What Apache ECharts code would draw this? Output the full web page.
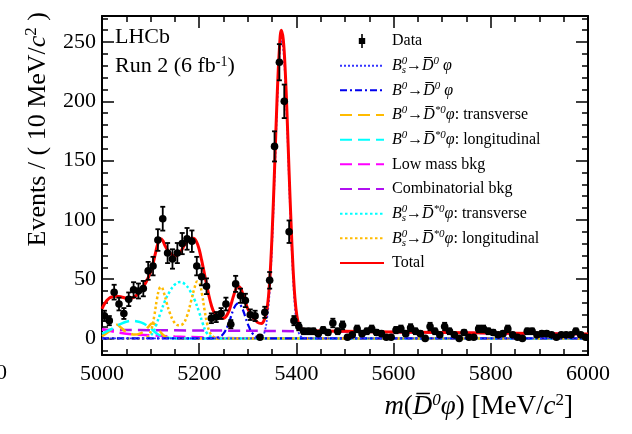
<!DOCTYPE html>
<html>
<head>
<meta charset="utf-8">
<script src="https://cdn.jsdelivr.net/npm/echarts@6/dist/echarts.min.js"></script>
<style>
  html, body { margin: 0; padding: 0; background: #fff; }
  #main { width: 632px; height: 434px; }
</style>
</head>
<body>
<div id="main"></div>
<script>
// binning of the mass axis (10 MeV bins from 5000)
var binLo = 5000, binW = 10;

// events per bin
var counts = [
  19, 15, 39, 29, 21, 33, 41, 40, 42, 57,
  61, 83, 101, 72, 67, 72, 80, 84, 82, 61,
  52, 44, 17, 18, 21, 29, 12, 46, 36, 32,
  20, 19, 1, 22, 49, 162, 233, 200, 90, 15,
  10, 6, 6, 6, 4, 7, 5, 13, 6, 11,
  1, 3, 8, 4, 6, 8, 5, 4, 1, 1,
  7, 8, 4, 9, 6, 4, 0, 10, 6, 3,
  10, 6, 3, 0, 5, 1, 1, 8, 8, 6,
  5, 3, 4, 8, 3, 1, 0, 6, 6, 3,
  4, 4, 3, 1, 3, 3, 3, 6, 3, 1
];

// fit components, [mass, events]
var bsD0 = [[5000,0],[5300,0],[5320,0.3],[5330,2],[5335,6],[5340,18],[5345,40],[5350,80],[5355,134],[5360,192],[5365,236],[5369,252],[5373,244],[5377,218],[5381,178],[5385,132],[5389,89],[5393,52],[5397,26],[5401,11],[5405,4.5],[5410,1.5],[5420,0.3],[5440,0],[6000,0]];
var b0D0 = [[5000,0],[5220,0],[5240,1],[5250,4],[5260,12],[5265,18],[5270,24],[5275,28],[5280,29.5],[5285,28],[5290,24],[5295,18],[5300,12],[5310,4],[5320,1],[5340,0],[6000,0]];
var b0DstT = [[5000,2],[5010,4.5],[5020,8],[5026,10.5],[5031,11.5],[5038,9.5],[5048,6],[5058,4],[5068,3.2],[5078,4],[5088,6.5],[5096,10],[5103,12.5],[5109,12],[5116,8],[5123,4],[5131,1.2],[5143,0.2],[5160,0],[6000,0]];
var b0DstL = [[5000,4],[5010,6],[5020,8],[5030,10.5],[5040,12.5],[5050,14],[5060,14.8],[5070,14.5],[5080,13.5],[5090,11.5],[5100,8.5],[5110,5],[5120,2.3],[5130,0.8],[5145,0.1],[5160,0],[6000,0]];
var lowMass = [[5000,8],[5020,6],[5050,4],[5100,2.6],[5150,1.6],[5200,0.9],[5250,0.4],[5300,0.1],[5350,0],[6000,0]];
var combBkg = [[5000,7.2],[5200,6.7],[5400,6.1],[5600,5.3],[5800,4.4],[6000,3.6]];
var bsDstT = [[5000,0],[5080,0],[5095,1],[5105,5],[5112,12],[5120,21],[5130,32],[5140,40],[5150,45.5],[5160,47.5],[5170,46],[5180,41],[5190,33],[5200,22],[5207,13],[5215,5],[5225,1.2],[5240,0],[6000,0]];
var bsDstL = [[5000,0],[5085,0],[5095,2],[5102,8],[5108,20],[5113,33],[5118,42],[5122,43.5],[5127,39],[5133,30],[5140,21],[5148,14],[5157,11],[5166,12],[5175,19],[5183,31],[5190,42],[5196,48],[5201,46],[5206,37],[5211,24],[5216,13],[5222,5],[5230,1.2],[5245,0],[6000,0]];
var total = [[5000,25],[5005,29],[5010,32],[5015,34],[5020,35],[5030,35.5],[5040,35],[5050,34],[5060,34],[5070,36],[5080,41],[5090,47],[5100,56],[5105,63],[5110,72],[5115,80],[5120,84],[5125,82.5],[5130,78],[5140,72],[5150,69.5],[5160,72],[5170,79],[5180,83.5],[5188,84.5],[5195,81],[5200,75],[5205,66],[5210,56],[5215,46],[5220,36],[5225,28],[5230,22.5],[5240,17.5],[5250,17],[5260,22],[5265,28],[5270,35],[5275,41],[5280,44],[5285,42.5],[5290,37],[5295,31],[5300,25],[5310,18],[5320,13.5],[5328,12.5],[5335,17],[5340,26],[5345,48],[5350,88],[5355,142],[5360,200],[5365,244],[5369,260],[5373,252],[5377,226],[5381,186],[5385,140],[5389,97],[5393,60],[5397,34],[5401,19],[5405,12],[5410,8.5],[5420,7],[5440,6.5],[5500,6],[5600,5.4],[5700,4.9],[5800,4.5],[5900,4.1],[6000,3.8]];

var yMajor = [0, 50, 100, 150, 200, 250];
var yMinor = [];
for (var t = -10; t <= 270; t += 10) yMinor.push(t);

var serif = 'Liberation Serif';
var DBAR = 'D\u0305';

var legendRich = {
  i: { fontFamily: serif, fontStyle: 'italic', fontSize: 16, lineHeight: 20 },
  sup: { fontFamily: serif, fontStyle: 'italic', fontSize: 11, lineHeight: 9, verticalAlign: 'top' },
  sz: { fontFamily: serif, fontStyle: 'italic', fontSize: 11, lineHeight: 9, verticalAlign: 'top', width: 0.01 },
  sub: { fontFamily: serif, fontStyle: 'italic', fontSize: 11, lineHeight: 9, verticalAlign: 'bottom' },
  ar: { fontFamily: serif, fontSize: 16, lineHeight: 20 }
};
var legendText = {
  'Data': 'Data',
  'bsD0': '{i|B}{sz|0}{sub|s}{ar|→}{i|' + DBAR + '}{sup|0}{i| φ}',
  'b0D0': '{i|B}{sup|0}{ar|→}{i|' + DBAR + '}{sup|0}{i| φ}',
  'b0DstT': '{i|B}{sup|0}{ar|→}{i|' + DBAR + '}{sup|*0}{i|φ}: transverse',
  'b0DstL': '{i|B}{sup|0}{ar|→}{i|' + DBAR + '}{sup|*0}{i|φ}: longitudinal',
  'lowMass': 'Low mass bkg',
  'comb': 'Combinatorial bkg',
  'bsDstT': '{i|B}{sz|0}{sub|s}{ar|→}{i|' + DBAR + '}{sup|*0}{i|φ}: transverse',
  'bsDstL': '{i|B}{sz|0}{sub|s}{ar|→}{i|' + DBAR + '}{sup|*0}{i|φ}: longitudinal',
  'total': 'Total'
};

function curve(name, pts, color, dash, width, z) {
  return {
    type: 'line', name: name, data: pts, symbol: 'none', showSymbol: false,
    smooth: 0.4, clip: true, z: z, silent: true,
    lineStyle: { color: color, type: dash, width: width },
    itemStyle: { color: color }
  };
}

function axisX(pos, labels) {
  return {
    type: 'value', min: 5000, max: 6000, interval: 200, position: pos,
    axisLine: { show: true, onZero: false, lineStyle: { color: '#000', width: 2 } },
    axisTick: { show: true, inside: true, length: 12, lineStyle: { color: '#000', width: 1.5 } },
    minorTick: { show: true, splitNumber: 4, length: 6, lineStyle: { color: '#000', width: 1.5 } },
    axisLabel: { show: labels, fontFamily: serif, fontSize: 22, color: '#000', margin: 8,
                 formatter: function (v) { return String(v); } },
    splitLine: { show: false }
  };
}
function axisY(pos, ticks, len, labels, line) {
  return {
    type: 'value', min: -14, max: 272, position: pos,
    axisLine: { show: line, onZero: false, lineStyle: { color: '#000', width: 2 } },
    axisTick: { show: true, inside: true, length: len, customValues: ticks, lineStyle: { color: '#000', width: 1.5 } },
    axisLabel: { show: labels, customValues: yMajor, fontFamily: serif, fontSize: 22, color: '#000', margin: 6 },
    splitLine: { show: false }
  };
}

var titleRich = {
  i: { fontFamily: serif, fontStyle: 'italic', fontSize: 27, lineHeight: 30 },
  s: { fontFamily: serif, fontSize: 17, lineHeight: 14, verticalAlign: 'top' },
  si: { fontFamily: serif, fontStyle: 'italic', fontSize: 17, lineHeight: 12, verticalAlign: 'top' }
};

var chart = echarts.init(document.getElementById('main'));
chart.setOption({
  animation: false,
  backgroundColor: '#fff',
  grid: { left: 102, right: 44, top: 16, bottom: 79 },
  xAxis: [axisX('bottom', true), axisX('top', false)],
  yAxis: [
    axisY('left', yMajor, 12, true, true),
    axisY('left', yMinor, 6, false, false),
    axisY('right', yMajor, 12, false, true),
    axisY('right', yMinor, 6, false, false)
  ],
  legend: {
    orient: 'vertical', left: 339, top: 31, padding: 0,
    itemWidth: 44, itemHeight: 14, itemGap: 4.67, selectedMode: false,
    itemStyle: { opacity: 0 },
    textStyle: { fontFamily: serif, fontSize: 16, color: '#000', lineHeight: 20, padding: [0, 0, 0, 3], rich: legendRich },
    formatter: function (name) { return legendText[name]; },
    data: [
      { name: 'Data', icon: 'path://M0,7L0.01,7L0.01,7.01Z M44,7L43.99,7L43.99,7.01Z M21.2,0L22.8,0L22.8,14L21.2,14Z M18.8,4L25.2,4L25.2,10L18.8,10Z', itemStyle: { color: '#000', opacity: 1 } },
      'bsD0', 'b0D0', 'b0DstT', 'b0DstL', 'lowMass', 'comb', 'bsDstT', 'bsDstL', 'total'
    ]
  },
  graphic: [
    { type: 'text', x: 115, y: 37, style: { text: 'LHCb', fontFamily: serif, fontSize: 22, fill: '#000', verticalAlign: 'middle' } },
    { type: 'text', x: 115, y: 66, style: { text: 'Run 2 (6 fb{s|-1})', fontFamily: serif, fontSize: 22, fill: '#000', verticalAlign: 'middle',
        rich: { s: { fontFamily: serif, fontSize: 14, lineHeight: 12, verticalAlign: 'top' } } } },
    { type: 'text', x: 38, y: 12, rotation: Math.PI / 2,
      style: { text: 'Events / ( 10 MeV/{i|c}{s|2} )', fontFamily: serif, fontSize: 26, fill: '#000', align: 'right', verticalAlign: 'middle',
        rich: { i: { fontFamily: serif, fontStyle: 'italic', fontSize: 26, lineHeight: 30 }, s: { fontFamily: serif, fontSize: 17, lineHeight: 14, verticalAlign: 'top' } } } },
    { type: 'text', x: 573, y: 407,
      style: { text: '{i|m}(' + '{i|' + DBAR + '}{si|0}{i|φ}) [MeV/{i|c}{s|2}]', fontFamily: serif, fontSize: 27, fill: '#000', align: 'right', verticalAlign: 'middle',
        rich: titleRich } },
    { type: 'text', x: 7, y: 373, style: { text: '6000', fontFamily: serif, fontSize: 22, fill: '#000', align: 'right', verticalAlign: 'middle' } }
  ],
  series: [
    curve('comb', combBkg, '#b010f0', [12, 6], 2.5, 2),
    curve('lowMass', lowMass, '#ff00ff', [12, 6], 2.5, 2),
    curve('b0DstT', b0DstT, '#ffbb00', [12, 6], 2.5, 3),
    curve('b0DstL', b0DstL, '#00ffff', [12, 6], 2.5, 3),
    curve('bsDstT', bsDstT, '#00ffff', [2.5, 2.5], 2.5, 3),
    curve('bsDstL', bsDstL, '#ffbb00', [2.5, 2.5], 2.5, 3),
    curve('b0D0', b0D0, '#0000ee', [7, 3, 2, 3], 2.2, 4),
    curve('bsD0', bsD0, '#3333ff', [2, 2], 1.8, 4),
    curve('total', total, '#ff0000', 'solid', 3, 5),
    {
      type: 'custom', name: 'Data', z: 10, clip: true, silent: true,
      itemStyle: { color: '#000' },
      data: counts.map(function (n, i) { return [binLo + binW * (i + 0.5), n]; }),
      renderItem: function (params, api) {
        var m = api.value(0), n = api.value(1);
        var e = Math.sqrt(Math.max(n, 1.3));
        var p = api.coord([m, n]);
        var hi = api.coord([m, n + e])[1];
        var lo = api.coord([m, Math.max(n - Math.sqrt(n), 0)])[1];
        var st = { stroke: '#000', lineWidth: 1.8 };
        return {
          type: 'group',
          children: [
            { type: 'line', shape: { x1: p[0], y1: hi, x2: p[0], y2: lo }, style: st },
            { type: 'line', shape: { x1: p[0] - 2.5, y1: hi, x2: p[0] + 2.5, y2: hi }, style: st },
            { type: 'line', shape: { x1: p[0] - 2.5, y1: lo, x2: p[0] + 2.5, y2: lo }, style: st },
            { type: 'circle', shape: { cx: p[0], cy: p[1], r: 3.8 }, style: { fill: '#000' } }
          ]
        };
      }
    }
  ]
});
</script>
</body>
</html>
